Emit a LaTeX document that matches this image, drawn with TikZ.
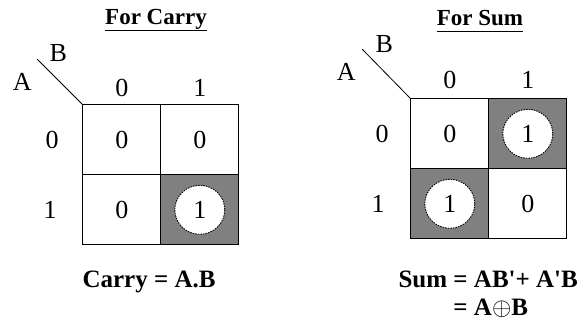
\documentclass[tikz,border=0pt]{standalone}
\usepackage{fontspec}
\setmainfont{Liberation Serif}
\usetikzlibrary{matrix,positioning,shapes.geometric}
\definecolor{keygray}{RGB}{128,128,128}
\newcommand\kmfont{\fontsize{26}{30}\selectfont}
\newcommand\kmbold{\fontsize{25}{28}\selectfont\bfseries}
\tikzset{
kmap/.style={
  matrix of nodes,
  nodes in empty cells,
  inner sep=0pt,
  nodes={draw=black, line width=1.2pt, minimum width=78pt,
    minimum height=70pt, font=\kmfont, anchor=center},
  column sep=-1.2pt,
  row sep=-1.2pt
  },
hot/.style={fill=keygray},
oval/.style={ellipse, draw=black, line width=0.9pt,
  dash pattern=on 1.6pt off 1pt, fill=white,
  minimum width=50pt, minimum height=49pt, inner sep=0pt, font=\kmfont},
lbl/.style={font=\kmfont, inner sep=0pt},
ttl/.style={font=\fontsize{23}{26}\selectfont\bfseries, inner sep=0pt}
}

\begin{document}
\begin{tikzpicture}[x=1pt,y=-1pt]
\useasboundingbox (0,0) rectangle (580,325);

% carry map
\node[ttl] (ctitle) at (156,19) {For Carry};
\draw[line width=1.2pt] ([yshift=-6pt]ctitle.base west) -- ([yshift=-6pt]ctitle.base east);

\matrix[kmap,anchor=north west] at (82,104) (carry)
{
  0 & 0 \\
  0 & |[hot]| \\
};
\node[oval] (c11) at (carry-2-2) {1};

\coordinate (cslash) at ([shift={(-45,-45)}]carry-1-1.north west);
\draw[thick] (cslash) -- (carry-1-1.north west);
\node[lbl] (cb) at ([shift={(21,-6)}]cslash) {B};
\node[lbl] (ca) at ([shift={(-15,23)}]cslash) {A};

\node[lbl] (ccol0) at ([yshift=16pt]carry-1-1.north) {0};
\node[lbl] (ccol1) at ([yshift=16pt]carry-1-2.north) {1};
\node[lbl] (crow0) at ([xshift=-30pt]carry-1-1.west) {0};
\node[lbl] (crow1) at ([xshift=-32pt]carry-2-1.west) {1};

\node[font=\kmbold, inner sep=0pt] (cexpr) at (149,282) {Carry = A.B};

% sum map
\node[ttl] (stitle) at (480,18) {For Sum};
\draw[line width=1.2pt] ([yshift=-6pt]stitle.base west) -- ([yshift=-6pt]stitle.base east);

\matrix[kmap,anchor=north west] at (410,98) (sum)
{
  0 & |[hot]| \\
  |[hot]| & 0 \\
};
\node[oval] (s01) at (sum-1-2) {1};
\node[oval] (s10) at (sum-2-1) {1};

\coordinate (sslash) at ([shift={(-48,-49)}]sum-1-1.north west);
\draw[thick] (sslash) -- (sum-1-1.north west);
\node[lbl] (sb) at ([shift={(22,-5)}]sslash) {B};
\node[lbl] (sa) at ([shift={(-16,23)}]sslash) {A};

\node[lbl] (scol0) at ([yshift=18pt]sum-1-1.north) {0};
\node[lbl] (scol1) at ([yshift=18pt]sum-1-2.north) {1};
\node[lbl] (srow0) at ([xshift=-28pt]sum-1-1.west) {0};
\node[lbl] (srow1) at ([xshift=-32pt]sum-2-1.west) {1};

\node[font=\kmbold, inner sep=0pt, anchor=north east] (sexpr) at (578,268)
{\begin{tabular}{@{}r@{ }l@{}}
  Sum & = AB\textquotesingle+ A\textquotesingle B\\
      & = A$\oplus$B
\end{tabular}};

\end{tikzpicture}
\end{document}
